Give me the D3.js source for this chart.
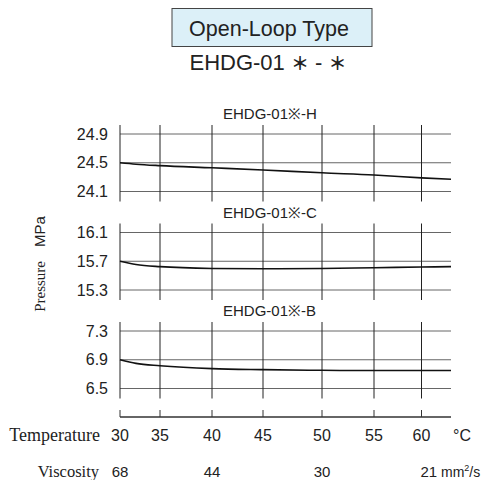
<!DOCTYPE html>
<meta charset="utf-8">
<title>EHDG-01 pressure vs temperature</title>
<style>
body { margin: 0; background: #fff; }
svg text { font-family: "Liberation Sans", Arial, sans-serif; fill: #222; }
.serif { font-family: "Liberation Serif", "Times New Roman", serif !important; }
.cjk { font-family: "Noto Sans CJK JP", sans-serif !important; font-weight: 700; }
.hgrid { stroke: #666; stroke-width: 1; }
.vgrid { stroke: #222; stroke-width: 1; }
.curve { fill: none; stroke: #111; stroke-width: 1.6; }
</style>
<body>
<script src="https://d3js.org/d3.v7.min.js"></script>
<script>
// temperature ticks (deg C) and viscosity labels
var tempTicks = [30, 35, 40, 45, 50, 55, 60];
var viscTemps = [30, 40, 50, 60];
var viscLabels = ["68", "44", "30", "21"];

// sample temperatures the curves were read at
var temps = [30, 32, 35, 40, 45, 50, 55, 60, 63];

// the three models
var panelNames = ["EHDG-01※-H", "EHDG-01※-C", "EHDG-01※-B"];
var yTicksH = [24.1, 24.5, 24.9];
var yTicksC = [15.3, 15.7, 16.1];
var yTicksB = [6.5, 6.9, 7.3];
var pressH = [24.50, 24.48, 24.46, 24.43, 24.40, 24.36, 24.33, 24.29, 24.27];
var pressC = [15.70, 15.655, 15.625, 15.60, 15.595, 15.60, 15.61, 15.62, 15.625];
var pressB = [6.90, 6.85, 6.817, 6.776, 6.762, 6.753, 6.75, 6.75, 6.75];

var W = 481, H = 480;
var svg = d3.select("body").append("svg").attr("width", W).attr("height", H);

// x axis is not even spaced in the original (viscosity based), so map tick by tick
var x = d3.scaleLinear()
  .domain([30, 35, 40, 45, 50, 55, 60, 63])
  .range([120, 160, 212, 263, 322, 374, 421.5, 451]);

// header
svg.append("rect")
  .attr("x", 172).attr("y", 8.5).attr("width", 200).attr("height", 38)
  .attr("fill", "#dcf0f8").attr("stroke", "#444").attr("stroke-width", 1);
svg.append("text").attr("x", 269).attr("y", 36).attr("text-anchor", "middle")
  .style("font-size", "21.5px").text("Open-Loop Type");
var sub = svg.append("text").attr("x", 268).attr("y", 70).attr("text-anchor", "middle")
  .style("font-size", "22px");
sub.append("tspan").text("EHDG-01 ");
sub.append("tspan").attr("class", "cjk").style("font-size", "18px").text("＊");
sub.append("tspan").text(" - ");
sub.append("tspan").attr("class", "cjk").style("font-size", "18px").text("＊");

var panels = [
  {name: panelNames[0], ticks: yTicksH, vals: pressH, top: 134},
  {name: panelNames[1], ticks: yTicksC, vals: pressC, top: 232.5},
  {name: panelNames[2], ticks: yTicksB, vals: pressB, top: 331}
];
var ph = 57.5;

panels.forEach(function(p) {
  var y = d3.scaleLinear().domain([p.ticks[0], p.ticks[2]]).range([p.top + ph, p.top]);
  var g = svg.append("g");

  g.selectAll(".hgrid").data(p.ticks).enter().append("line")
    .attr("class", "hgrid")
    .attr("x1", x(30)).attr("x2", x(63))
    .attr("y1", function(d) { return y(d); }).attr("y2", function(d) { return y(d); });

  g.selectAll(".vgrid").data(tempTicks).enter().append("line")
    .attr("class", "vgrid")
    .attr("x1", function(d) { return x(d); }).attr("x2", function(d) { return x(d); })
    .attr("y1", p.top - 9).attr("y2", p.top + ph + 10);

  g.selectAll(".ylab").data(p.ticks).enter().append("text")
    .attr("x", 108).attr("y", function(d) { return y(d) + 5.5; })
    .attr("text-anchor", "end").style("font-size", "16px")
    .text(function(d) { return d.toFixed(1); });

  g.append("text").attr("x", 223).attr("y", p.top - 15)
    .style("font-size", "15px").text(p.name);

  var line = d3.line()
    .x(function(d, i) { return x(temps[i]); })
    .y(function(d) { return y(d); })
    .curve(d3.curveMonotoneX);
  g.append("path").datum(p.vals).attr("class", "curve").attr("d", line);
});

// y label
var yl = svg.append("text").attr("transform", "translate(45,264) rotate(-90)")
  .attr("text-anchor", "middle").style("font-size", "15px");
yl.append("tspan").attr("class", "serif").text("Pressure");
yl.append("tspan").attr("dx", 14).text("MPa");

// bottom temperature axis
var axY = 417;
svg.append("line").attr("x1", x(30)).attr("x2", x(63))
  .attr("y1", axY).attr("y2", axY).attr("stroke", "#333").attr("stroke-width", 1.3);
svg.selectAll(".xt").data(tempTicks).enter().append("line")
  .attr("x1", function(d) { return x(d); }).attr("x2", function(d) { return x(d); })
  .attr("y1", axY - 7).attr("y2", axY).attr("stroke", "#333").attr("stroke-width", 1);
svg.selectAll(".xl").data(tempTicks).enter().append("text")
  .attr("x", function(d) { return x(d); }).attr("y", 441)
  .attr("text-anchor", "middle").style("font-size", "16px")
  .text(function(d) { return d; });
svg.append("text").attr("x", 453).attr("y", 441).style("font-size", "16px").text("°C");
svg.append("text").attr("class", "serif").attr("x", 100).attr("y", 441)
  .attr("text-anchor", "end").style("font-size", "18px").text("Temperature");

// viscosity row
svg.selectAll(".vl").data(viscLabels).enter().append("text")
  .attr("x", function(d, i) { return i < 3 ? x(viscTemps[i]) : x(viscTemps[i]) - 1; })
  .attr("y", 477)
  .attr("text-anchor", function(d, i) { return i < 3 ? "middle" : "start"; })
  .style("font-size", "15px")
  .text(function(d) { return d; });
var mm = svg.append("text").attr("x", 441).attr("y", 477).style("font-size", "14px");
mm.append("tspan").text("mm");
mm.append("tspan").attr("dy", -6).style("font-size", "9px").text("2");
mm.append("tspan").attr("dy", 6).text("/s");
svg.append("text").attr("class", "serif").attr("x", 99).attr("y", 477)
  .attr("text-anchor", "end").style("font-size", "16.5px").text("Viscosity");
</script>
</body>
